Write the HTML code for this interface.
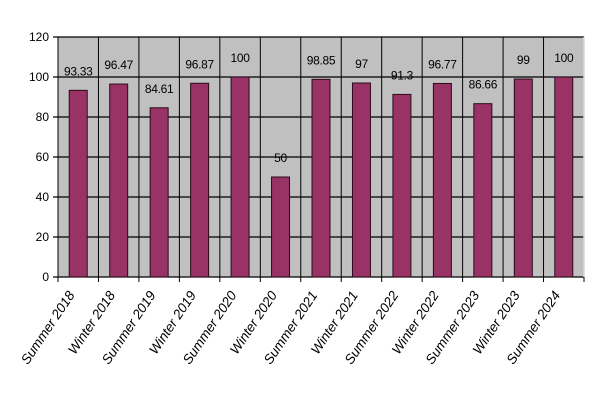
<!DOCTYPE html>
<html><head><meta charset="utf-8"><style>
body{margin:0;background:#fff;}
svg{display:block;font-family:"Liberation Sans",sans-serif;}
</style></head><body>
<svg id="c" width="600" height="400"></svg>
<script>
const categories=["Summer 2018","Winter 2018","Summer 2019","Winter 2019","Summer 2020","Winter 2020","Summer 2021","Winter 2021","Summer 2022","Winter 2022","Summer 2023","Winter 2023","Summer 2024"];
const values=[93.33,96.47,84.61,96.87,100,50,98.85,97,91.3,96.77,86.66,99,100];
const valueLabels=["93.33","96.47","84.61","96.87","100","50","98.85","97","91.3","96.77","86.66","99","100"];
const yTicks=[0,20,40,60,80,100,120];
const NS="http://www.w3.org/2000/svg";
const svg=document.getElementById('c');
const L=58,R=584,T=37,B=277,yMax=120;
const bw=(R-L)/categories.length;
const y=v=>B-(v/yMax)*(B-T);
const x=i=>L+i*bw;
function mk(t,a,p){const e=document.createElementNS(NS,t);for(const k in a)e.setAttribute(k,a[k]);(p||svg).appendChild(e);return e;}
const bg=mk('rect',{x:L,y:T,width:R-L,height:B-T,fill:'#c0c0c0',stroke:'#d8d8d8','stroke-width':1});


yTicks.forEach(t=>{
  const ln=mk('line',{x1:L-5,x2:R,y1:y(t),y2:y(t),stroke:'#000','stroke-width':1.3});
  
  
  const tx=mk('text',{x:L-9,y:y(t)+4,'text-anchor':'end','font-size':12,fill:'#000'});
  tx.textContent=t;
  
  
});
for(let i=0;i<=categories.length;i++){
  const ln=mk('line',{x1:x(i),x2:x(i),y1:T,y2:B+5,stroke:'#000','stroke-width':1});
  
  
}
mk('line',{x1:R,x2:R,y1:T,y2:B,stroke:'#d8d8d8','stroke-width':1.5});
categories.forEach((c,i)=>{
  const cx=x(i)+bw/2,v=values[i];
  const r=mk('rect',{x:cx-9,y:y(v),width:18,height:B-y(v),fill:'#993366',stroke:'#2a0a1a','stroke-width':1});
  
  
  const lb=mk('text',{x:cx,y:y(v)-15,'text-anchor':'middle','font-size':12,fill:'#000','letter-spacing':'-0.3'});
  lb.textContent=valueLabels[i];
  
  
  const ax=cx-3,ay=B+18;
  const xl=mk('text',{x:ax,y:ay,'text-anchor':'end','font-size':13.5,'font-style':'italic',fill:'#000',transform:`rotate(-56 ${ax} ${ay})`});
  xl.textContent=c;
  
  
});
</script>
</body></html>
